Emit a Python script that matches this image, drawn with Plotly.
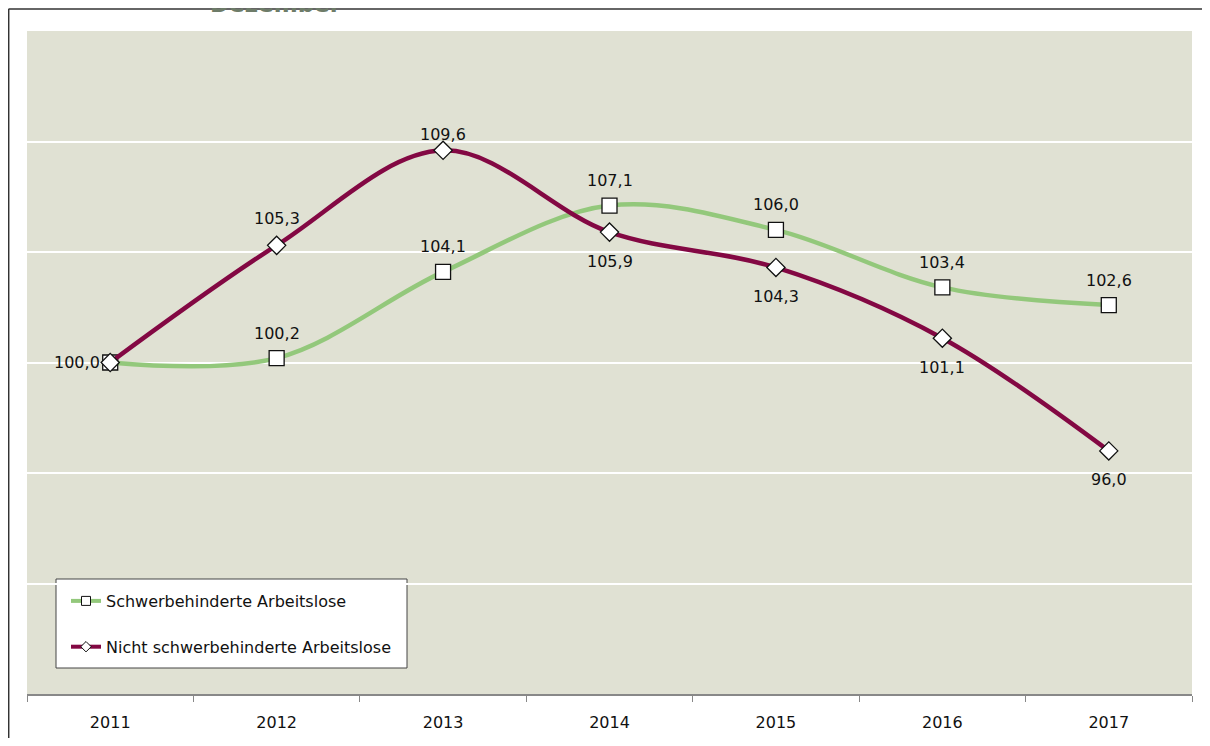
import plotly.graph_objects as go

# Werte (Index 2011 = 100)
jahre = ["2011", "2012", "2013", "2014", "2015", "2016", "2017"]
schwerbehinderte = [100.0, 100.2, 104.1, 107.1, 106.0, 103.4, 102.6]
nicht_schwerbehinderte = [100.0, 105.3, 109.6, 105.9, 104.3, 101.1, 96.0]

pos = list(range(len(jahre)))

gruen = "#93c87b"
weinrot = "#830843"
schrift = "DejaVu Sans, Verdana, sans-serif"

# Seite hat 8px Rand im Browser -> Figur etwas kleiner
W, H = 1194, 730
ML, MR, MT, MB = 19, 10, 23, 44
pw, ph = W - ML - MR, H - MT - MB


def px_x(x):  # Bildschirm-x -> paper
    return (x - 8 - ML) / pw


def px_y(y):  # Bildschirm-y -> paper
    return 1 - (y - 8 - MT) / ph


fig = go.Figure()

# Linien im Diagramm (ohne Legende)
fig.add_trace(go.Scatter(x=pos, y=schwerbehinderte, mode="lines+markers",
                         line=dict(color=gruen, width=4.5, shape="spline", smoothing=1),
                         marker=dict(symbol="square", size=15, color="white",
                                     line=dict(color="#111", width=1.3)),
                         showlegend=False, hoverinfo="skip"))
fig.add_trace(go.Scatter(x=pos, y=nicht_schwerbehinderte, mode="lines+markers",
                         line=dict(color=weinrot, width=4.5, shape="spline", smoothing=1),
                         marker=dict(symbol="diamond", size=14, color="white",
                                     line=dict(color="#111", width=1.3)),
                         showlegend=False, hoverinfo="skip"))

# nur fuer die Legende (kleinere Marker)
fig.add_trace(go.Scatter(x=[None], y=[None], mode="lines+markers", name="Schwerbehinderte Arbeitslose",
                         line=dict(color=gruen, width=4),
                         marker=dict(symbol="square", size=9, color="white", line=dict(color="#111", width=1)),
                         legendgroup="a"))
fig.add_trace(go.Scatter(x=[None], y=[None], mode="lines+markers", name="Nicht schwerbehinderte Arbeitslose",
                         line=dict(color=weinrot, width=4),
                         marker=dict(symbol="diamond", size=8, color="white", line=dict(color="#111", width=1)),
                         legendgroup="b"))


def fmt(v):
    return f"{v:.1f}".replace(".", ",")


lab = dict(size=16, color="#111", family=schrift)
annos = []
for i, v in enumerate(schwerbehinderte):
    if i == 0:
        continue
    annos.append(dict(x=pos[i], y=v, text=fmt(v), showarrow=False, yshift=25, font=lab))
for i, v in enumerate(nicht_schwerbehinderte):
    if i == 0:
        annos.append(dict(x=pos[i], y=v, text=fmt(v), showarrow=False, xshift=-33, font=lab))
    elif i <= 2:
        annos.append(dict(x=pos[i], y=v, text=fmt(v), showarrow=False, yshift=16 if i == 2 else 27, font=lab))
    else:
        annos.append(dict(x=pos[i], y=v, text=fmt(v), showarrow=False, yshift=-29, font=lab))

# abgeschnittener Titel oben
annos.append(dict(xref="paper", yref="paper", x=px_x(208), y=1, xanchor="left", yanchor="bottom",
                  yshift=12, text="<b>Dezember</b>", showarrow=False,
                  font=dict(size=23, color="#6e7c69", family=schrift)))

fig.update_layout(
    width=W, height=H,
    margin=dict(l=ML, r=MR, t=MT, b=MB, autoexpand=False),
    paper_bgcolor="white",
    plot_bgcolor="#e0e1d3",
    font=dict(family=schrift, size=16, color="#111"),
    annotations=annos,
    legend=dict(x=px_x(66), y=px_y(584), xanchor="left", yanchor="top",
                bgcolor="rgba(0,0,0,0)", borderwidth=0,
                traceorder="grouped", tracegroupgap=22,
                font=dict(size=16, family=schrift, color="#111")),
    shapes=[
        dict(type="line", xref="paper", yref="paper", x0=px_x(8.5), x1=1.1,
             y0=px_y(9), y1=px_y(9), line=dict(color="#333", width=1.5)),
        dict(type="line", xref="paper", yref="paper", x0=px_x(8.7), x1=px_x(8.7),
             y0=-0.2, y1=px_y(9), line=dict(color="#333", width=1.5)),
        # Legendenrahmen
        dict(type="rect", xref="paper", yref="paper", x0=px_x(56), x1=px_x(407),
             y0=px_y(668), y1=px_y(579), fillcolor="white",
             line=dict(color="#444", width=1), layer="below"),
    ],
)

fig.update_xaxes(range=[-0.5, 6.5], tickvals=pos, ticktext=jahre, ticks="", ticklabelstandoff=13,
                 minor=dict(tick0=0.5, dtick=1, ticks="outside", ticklen=6, tickcolor="#888", showgrid=False),
                 showline=True, linecolor="#888", linewidth=1.5, automargin=False,
                 showgrid=False, zeroline=False, tickfont=dict(size=16, color="#111"))
fig.update_yaxes(range=[85, 115], tickvals=[90, 95, 100, 105, 110], showticklabels=False,
                 gridcolor="white", gridwidth=2, zeroline=False, showline=False, ticks="",
                 automargin=False)

fig.write_html("out.html")
